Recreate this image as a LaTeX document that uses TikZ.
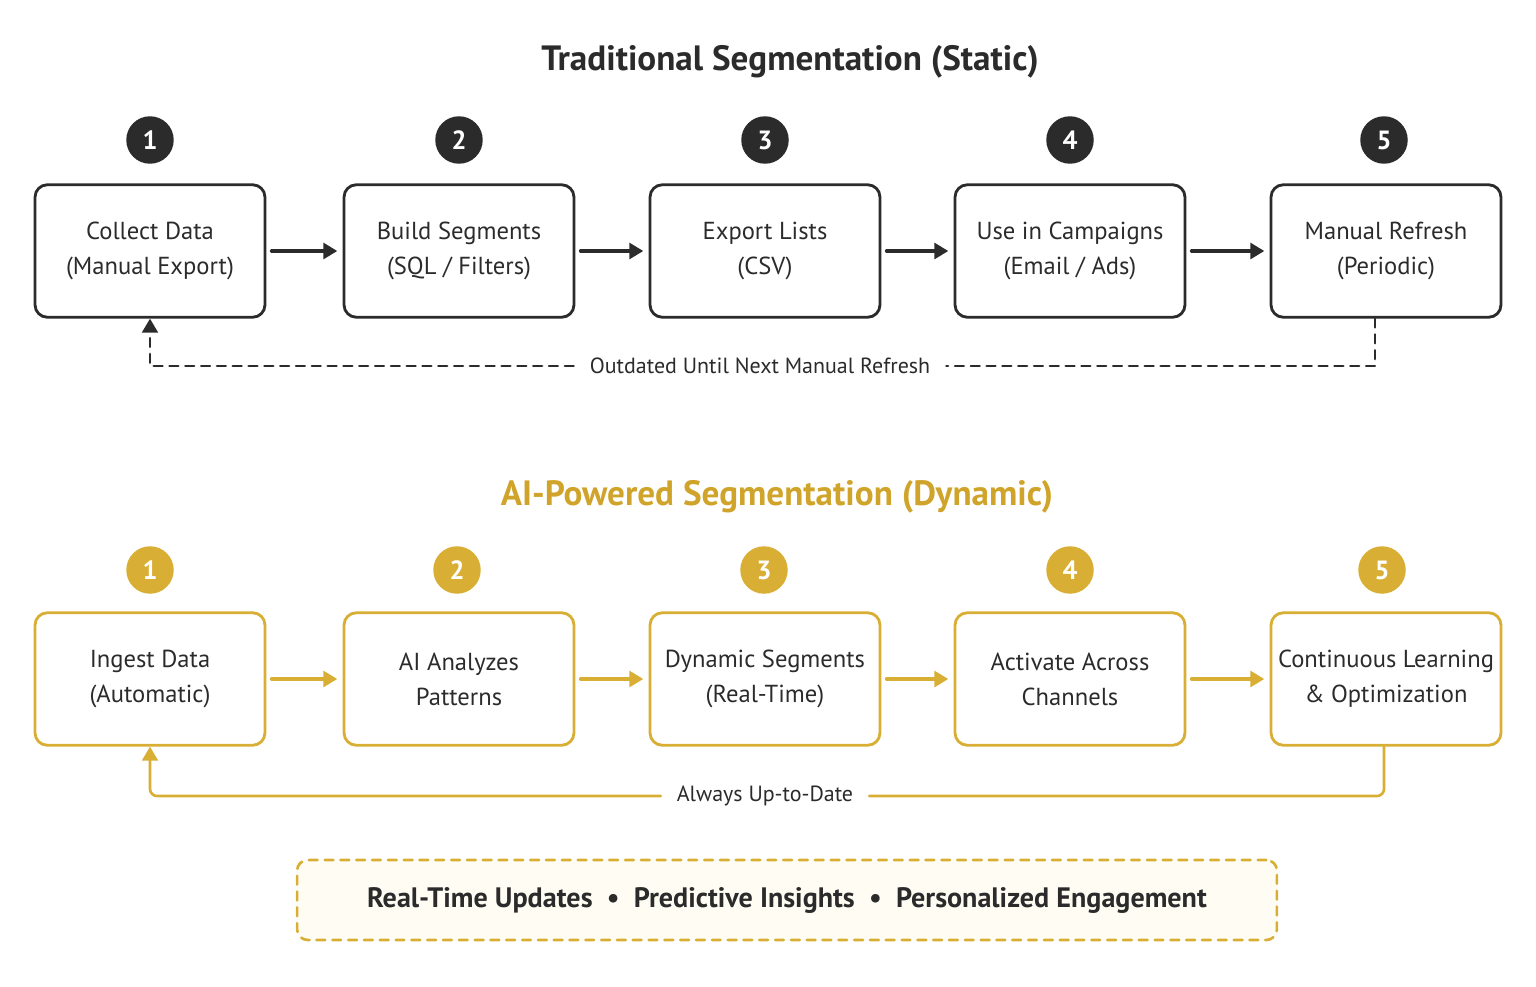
\documentclass[tikz,border=0pt]{standalone}
\usepackage{fontspec}
\setmainfont{PT Sans}
\usetikzlibrary{arrows.meta}
\definecolor{ink}{HTML}{2B2B2B}
\definecolor{gold}{HTML}{D9AE35}
\definecolor{goldtxt}{HTML}{D0A42A}
\definecolor{cream}{HTML}{FFFDF3}
\tikzset{
  box/.style={draw=ink, line width=1.6pt, rounded corners=7pt, minimum width=4.6cm, minimum height=2.65cm, align=center, font=\fontsize{14}{20}\selectfont, text=ink},
  gbox/.style={box, draw=gold},
  badge/.style={circle, fill=ink, text=white, minimum size=0.95cm, inner sep=0pt, font=\fontsize{15}{15}\selectfont\bfseries},
  gbadge/.style={badge, fill=gold},
  flow/.style={-{Triangle[length=8pt,width=9pt]}, line width=2pt, draw=ink, shorten <=3pt, shorten >=3pt},
  gflow/.style={flow, draw=gold},
  back/.style={line width=1.5pt, draw=ink, dashed, dash pattern=on 5pt off 4pt},
  lbl/.style={font=\fontsize{12.5}{12.5}\selectfont, text=ink, fill=white, inner xsep=9pt},
}
\begin{document}
\begin{tikzpicture}[x=0.02cm, y=-0.02cm, line join=round, line cap=round]
\useasboundingbox (0,0) rectangle (1536,987);
% traditional
\node[font=\fontsize{20}{20}\selectfont\bfseries, text=ink] (ttl) at (790,62) {Traditional Segmentation (Static)};
\node[box] (t1) at (150,251) {Collect Data\\(Manual Export)};
\node[box] (t2) at (459,251) {Build Segments\\(SQL / Filters)};
\node[box] (t3) at (765,251) {Export Lists\\(CSV)};
\node[box] (t4) at (1070,251) {Use in Campaigns\\(Email / Ads)};
\node[box] (t5) at (1386,251) {Manual Refresh\\(Periodic)};
\foreach \i/\xx in {1/150,2/459,3/765,4/1070,5/1384}
  \node[badge] (tb\i) at (\xx,140) {\i};
\foreach \i/\j in {1/2,2/3,3/4,4/5}
  \draw[flow] (t\i) -- (t\j);
\node[lbl] (tlbl) at (760,366) {Outdated Until Next Manual Refresh};
\coordinate (tr) at (1375,366);
\coordinate (tl) at (150,366);
\draw[back] (t5.south -| tr) -- (tr) -- (tlbl.east);
\draw[back, -{Triangle[length=8pt,width=9pt]}] (tlbl.west) -- (tl) -- (t1.south);
% AI powered
\node[font=\fontsize{20}{20}\selectfont\bfseries, text=goldtxt] (attl) at (777,497) {AI-Powered Segmentation (Dynamic)};
\node[gbox] (a1) at (150,679) {Ingest Data\\(Automatic)};
\node[gbox] (a2) at (459,679) {AI Analyzes\\Patterns};
\node[gbox] (a3) at (765,679) {Dynamic Segments\\(Real-Time)};
\node[gbox] (a4) at (1070,679) {Activate Across\\Channels};
\node[gbox] (a5) at (1386,679) {Continuous Learning\\\& Optimization};
\foreach \i/\xx in {1/150,2/457,3/764,4/1070,5/1382}
  \node[gbadge] (ab\i) at (\xx,570) {\i};
\foreach \i/\j in {1/2,2/3,3/4,4/5}
  \draw[gflow] (a\i) -- (a\j);
\node[lbl] (albl) at (765,796) {Always Up-to-Date};
\coordinate (ar) at (1384,796);
\coordinate (al) at (150,796);
\draw[line width=1.5pt, draw=gold, rounded corners=4pt] (a5.south -| ar) -- (ar) -- (albl.east);
\draw[line width=1.5pt, draw=gold, rounded corners=4pt, -{Triangle[length=8pt,width=9pt]}] (albl.west) -- (al) -- (a1.south);
% banner
\node[draw=gold, fill=cream, line width=1.5pt, dashed, dash pattern=on 5pt off 4pt, rounded corners=6pt, minimum width=19.6cm, minimum height=1.6cm, font=\fontsize{16}{16}\selectfont\bfseries, text=ink] (band) at (787,900)
  {Real-Time Updates \ \textbullet\ \ Predictive Insights \ \textbullet\ \ Personalized Engagement};
\end{tikzpicture}
\end{document}
